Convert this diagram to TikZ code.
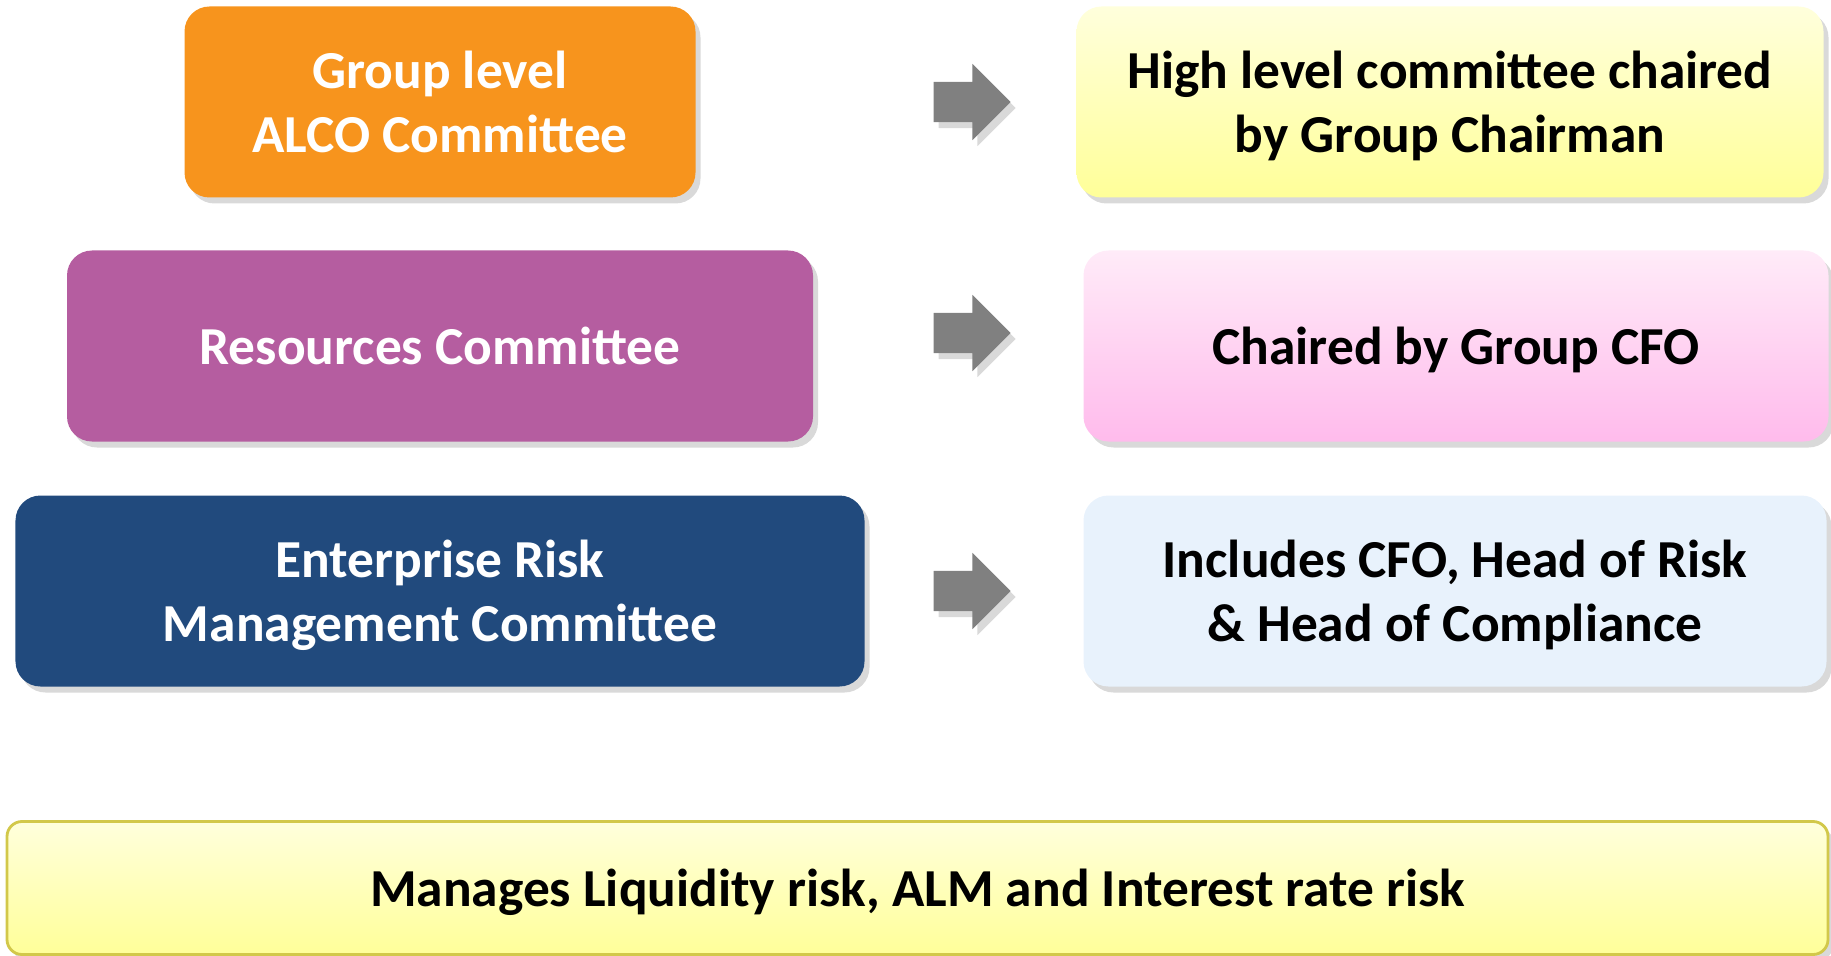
\documentclass[tikz,border=0pt]{standalone}
\usepackage{fontspec}
\setmainfont{Carlito}
\usetikzlibrary{shapes.arrows,shadows}

\definecolor{alcoorange}{HTML}{F7941D}
\definecolor{respurple}{HTML}{B55DA0}
\definecolor{ermnavy}{HTML}{214A7D}
\definecolor{paleyellow}{HTML}{FFFFDC}
\definecolor{lemon}{HTML}{FFFF99}
\definecolor{palepink}{HTML}{FFEBF8}
\definecolor{pink}{HTML}{FFBBEC}
\definecolor{paleblue}{HTML}{E8F2FC}
\definecolor{olive}{HTML}{D2C84A}
\definecolor{arrowgray}{HTML}{808080}

\tikzset{
  box/.style={rounded corners=0.25cm, align=center, inner sep=0pt, text depth=0pt,
    font=\fontsize{15.2}{18.2}\selectfont\bfseries,
    drop shadow={shadow xshift=0.05cm, shadow yshift=-0.06cm, opacity=0.3}},
  leftbox/.style={box, fill=#1, text=white, minimum height=1.91cm},
  rightbox/.style={box, text=black, minimum height=1.91cm},
  blockarrow/.style={single arrow, fill=arrowgray, draw=none,
    inner xsep=0pt, inner ysep=0.195cm, minimum height=0.77cm,
    single arrow head extend=0.18cm,
    drop shadow={shadow xshift=0.05cm, shadow yshift=-0.06cm, opacity=0.3}}
}

\begin{document}
\begin{tikzpicture}
\useasboundingbox (0,0) rectangle (18.31,-9.56);

% Committees (left)
\node[leftbox=alcoorange, minimum width=5.11cm] (alco) at (4.40,-1.02) {Group level\\ALCO Committee};
\node[leftbox=respurple, minimum width=7.46cm] (res) at (4.40,-3.46) {Resources Committee};
\node[leftbox=ermnavy, minimum width=8.49cm] (erm) at (4.40,-5.91) {Enterprise Risk\\Management Committee};

% Arrows
\node[blockarrow] (a1) at (9.62,-1.02) {};
\node[blockarrow] (a2) at (9.62,-3.33) {};
\node[blockarrow] (a3) at (9.62,-5.91) {};

% Descriptions (right)
\node[rightbox, top color=paleyellow, bottom color=lemon, minimum width=7.47cm] (chair) at (14.50,-1.02) {High level committee chaired\\by Group Chairman};
\node[rightbox, top color=palepink, bottom color=pink, minimum width=7.45cm] (cfo) at (14.56,-3.46) {Chaired by Group CFO};
\node[rightbox, fill=paleblue, minimum width=7.43cm] (members) at (14.55,-5.91) {Includes CFO, Head of Risk\\\& Head of Compliance};

% Scope
\node[box, drop shadow={opacity=0}, draw=olive, line width=0.8pt, top color=paleyellow, bottom color=lemon,
  minimum width=18.21cm, minimum height=1.33cm, rounded corners=0.15cm] (scope) at (9.175,-8.88)
  {Manages Liquidity risk, ALM and Interest rate risk};

\end{tikzpicture}
\end{document}
